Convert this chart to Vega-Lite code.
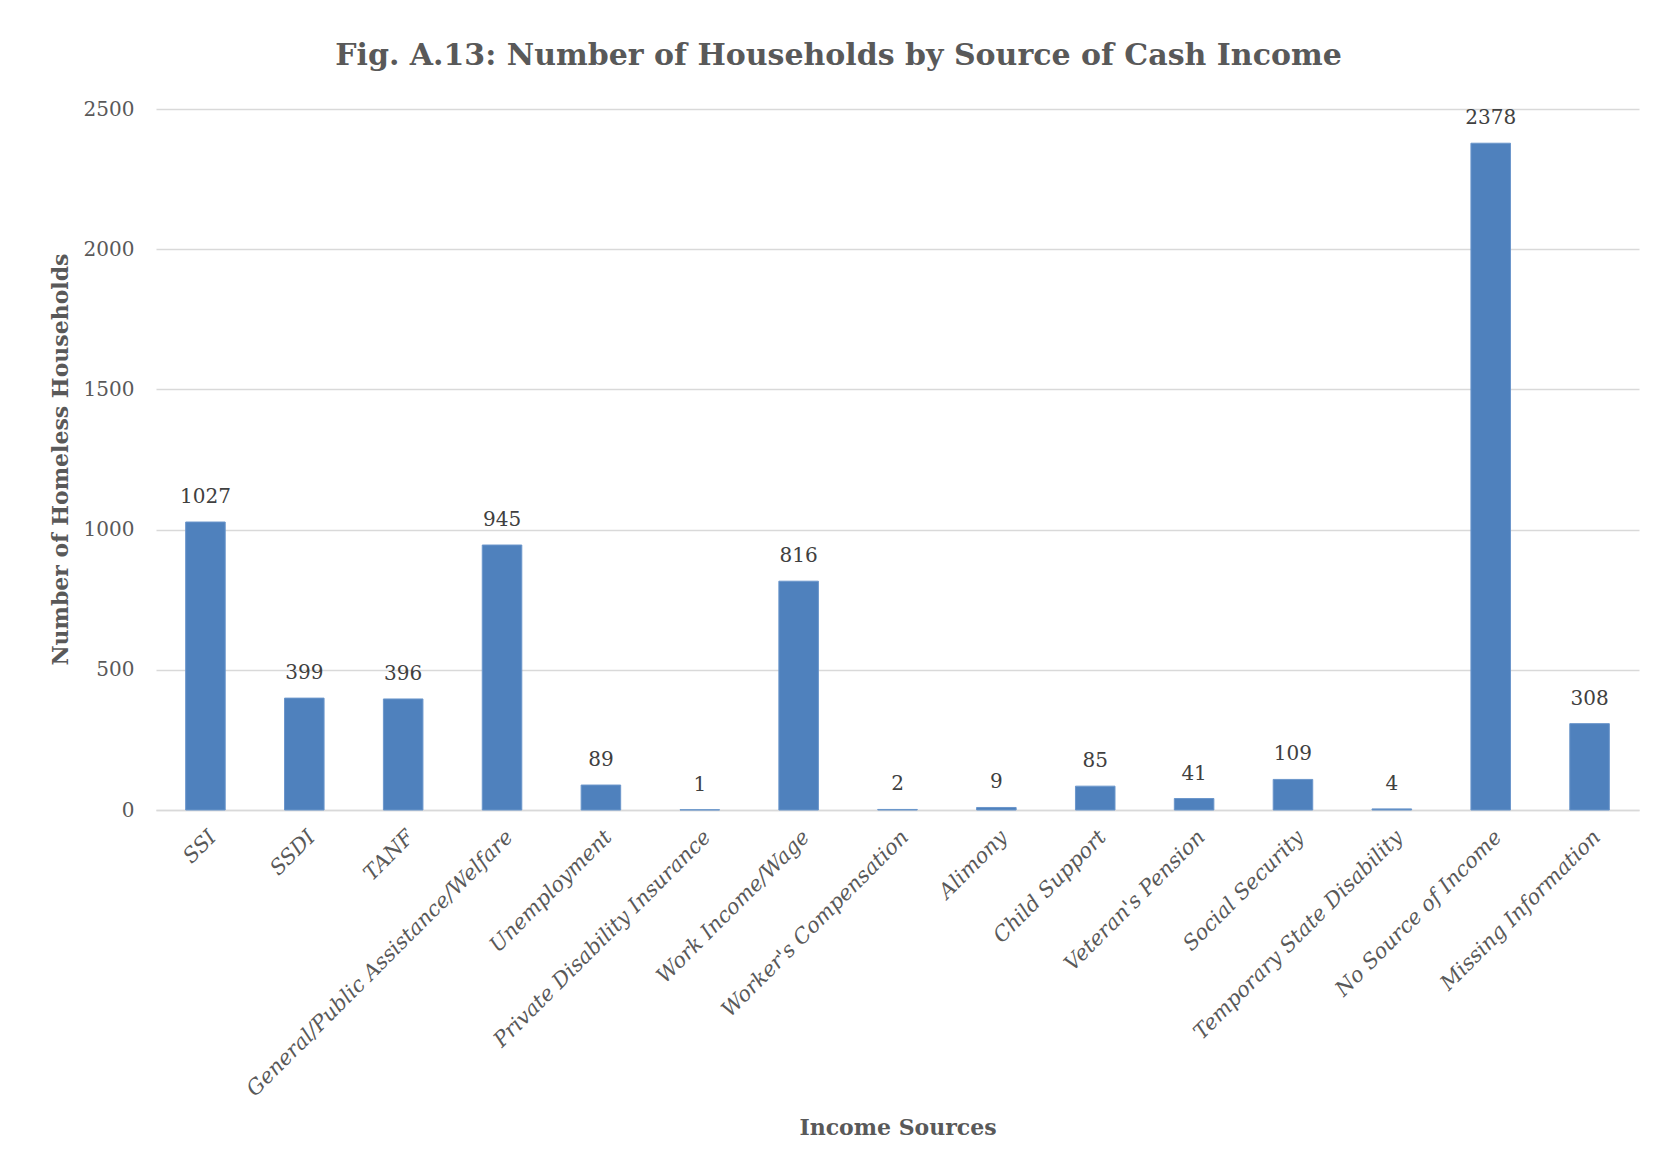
{
  "$schema": "https://vega.github.io/schema/vega-lite/v6.json",
  "autosize": {"type": "none"},
  "width": 1483,
  "height": 701,
  "padding": {"left": 156, "top": 109, "right": 14, "bottom": 357},
  "background": "white",
  "title": {
    "text": "Fig. A.13: Number of Households by Source of Cash Income",
    "font": "DejaVu Serif",
    "fontSize": 30,
    "fontWeight": "bold",
    "color": "#595959",
    "anchor": "middle",
    "dx": -59,
    "offset": 28
  },
  "data": {
    "values": [
      {"source": "SSI", "count": 1027},
      {"source": "SSDI", "count": 399},
      {"source": "TANF", "count": 396},
      {"source": "General/Public Assistance/Welfare", "count": 945},
      {"source": "Unemployment", "count": 89},
      {"source": "Private Disability Insurance", "count": 1},
      {"source": "Work Income/Wage", "count": 816},
      {"source": "Worker's Compensation", "count": 2},
      {"source": "Alimony", "count": 9},
      {"source": "Child Support", "count": 85},
      {"source": "Veteran's Pension", "count": 41},
      {"source": "Social Security", "count": 109},
      {"source": "Temporary State Disability", "count": 4},
      {"source": "No Source of Income", "count": 2378},
      {"source": "Missing Information", "count": 308}
    ]
  },
  "encoding": {
    "x": {
      "field": "source",
      "type": "nominal",
      "sort": null,
      "scale": {"paddingInner": 0.6, "paddingOuter": 0.3},
      "axis": {
        "title": "Income Sources",
        "titleFont": "DejaVu Serif",
        "titleFontSize": 22,
        "titleFontWeight": "bold",
        "titleColor": "#595959",
        "titleY": 317,
        "titleBaseline": "middle",
        "labelAngle": -45,
        "labelFont": "DejaVu Serif",
        "labelFontStyle": "italic",
        "labelFontSize": 21,
        "labelColor": "#595959",
        "labelPadding": 16,
        "labelLimit": 500,
        "ticks": false,
        "domainColor": "#D9D9D9",
        "domainWidth": 1.5
      }
    },
    "y": {
      "field": "count",
      "type": "quantitative",
      "scale": {"domain": [0, 2500]},
      "axis": {
        "title": "Number of Homeless Households",
        "titleFont": "DejaVu Serif",
        "titleFontSize": 22,
        "titleFontWeight": "bold",
        "titleColor": "#595959",
        "titleX": -96,
        "titleY": 350,
        "titleAngle": -90,
        "titleBaseline": "middle",
        "titleAlign": "center",
        "values": [0, 500, 1000, 1500, 2000, 2500],
        "format": "d",
        "labelFont": "DejaVu Serif",
        "labelFontSize": 20,
        "labelColor": "#595959",
        "labelPadding": 22,
        "ticks": false,
        "domain": false,
        "gridColor": "#D9D9D9",
        "gridWidth": 1.5
      }
    }
  },
  "layer": [
    {
      "mark": {"type": "bar", "color": "#4F81BD", "stroke": "#6B96CB", "strokeWidth": 1}
    },
    {
      "mark": {"type": "text", "font": "DejaVu Serif", "fontSize": 20, "color": "#404040", "baseline": "middle", "dy": -25},
      "encoding": {"text": {"field": "count", "type": "quantitative"}}
    }
  ],
  "config": {"view": {"stroke": null}}
}
